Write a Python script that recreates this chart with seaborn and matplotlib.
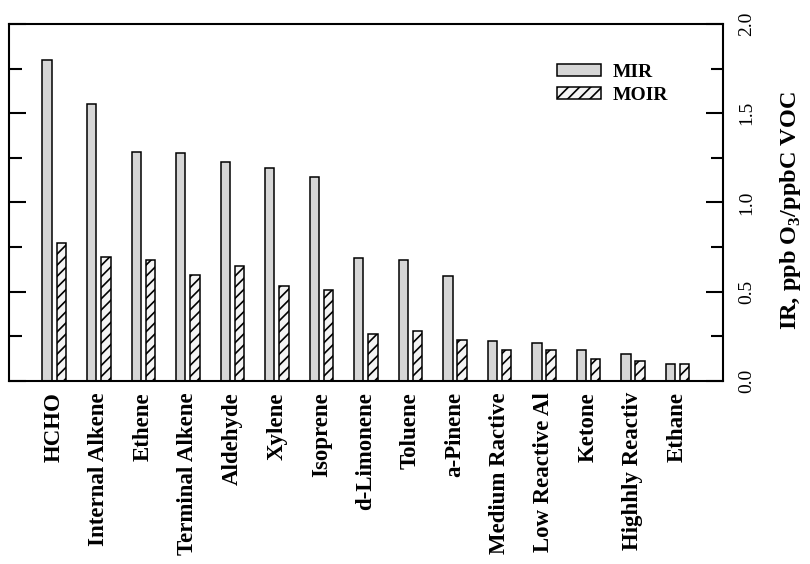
import matplotlib
matplotlib.use('Agg')
import matplotlib.pyplot as plt
import pandas as pd
import seaborn as sns
from matplotlib.ticker import MultipleLocator

categories = ['HCHO', 'Internal Alkene', 'Ethene', 'Terminal Alkene', 'Aldehyde',
              'Xylene', 'Isoprene', 'd-Limonene', 'Toluene', 'a-Pinene',
              'Medium Ractive', 'Low Reactive Al', 'Ketone', 'Highhly Reactiv', 'Ethane']
mir = [1.80, 1.55, 1.28, 1.275, 1.225, 1.195, 1.145, 0.69, 0.675, 0.59,
       0.222, 0.213, 0.176, 0.153, 0.093]
moir = [0.775, 0.696, 0.678, 0.594, 0.646, 0.534, 0.511, 0.265, 0.282, 0.231,
        0.176, 0.174, 0.123, 0.112, 0.093]
scales = ['MIR', 'MOIR']

sns.set_style('ticks')
plt.rcParams['font.family'] = ['Liberation Serif', 'DejaVu Serif']
plt.rcParams['mathtext.fontset'] = 'custom'
plt.rcParams['mathtext.rm'] = 'Liberation Serif:bold'
plt.rcParams['hatch.linewidth'] = 1.2
for key in ['text.color', 'axes.labelcolor', 'xtick.color', 'ytick.color',
            'axes.edgecolor', 'hatch.color']:
    plt.rcParams[key] = 'black'

df = pd.DataFrame({
    'species': categories * 2,
    'IR': mir + moir,
    'scale': [scales[0]] * len(mir) + [scales[1]] * len(moir),
})

fig = plt.figure(figsize=(8.1, 5.64), dpi=100)
ax = fig.add_axes([0.011, 0.3245, 0.882, 0.633])

sns.barplot(data=df, x='species', y='IR', hue='scale', order=categories,
            palette=['#d6d6d6', '#f4f4f4'], saturation=1, width=0.64, gap=0.34,
            edgecolor='black', linewidth=1.1, legend=False, ax=ax)
for bar in ax.containers[1]:
    bar.set_hatch('///')

ax.set_xlim(-1.02, 15.03)
ax.set_ylim(0, 2.0)
ax.set_xlabel('')

ax.yaxis.set_major_locator(MultipleLocator(0.5))
ax.yaxis.set_minor_locator(MultipleLocator(0.25))
ax.yaxis.set_label_position('right')
ax.tick_params(axis='y', which='both', direction='in', left=True, right=True,
               labelleft=False, labelright=True, width=1.5, labelsize=14,
               labelrotation=90, pad=11)
ax.tick_params(axis='y', which='major', length=12)
ax.tick_params(axis='y', which='minor', length=9)
ax.tick_params(axis='x', length=0, pad=8)
for lab in ax.get_xticklabels():
    lab.set_rotation(90)
    lab.set_fontweight('bold')
    lab.set_fontsize(16.5)
for lab in ax.get_yticklabels():
    lab.set_va('center')

ax.set_ylabel(r'IR, ppb O$_3$/ppbC VOC', fontsize=17.5, fontweight='bold')
ax.yaxis.set_label_coords(1.077, 0.476)

for sp in ax.spines.values():
    sp.set_linewidth(1.5)
    sp.set_visible(True)

handles = [ax.containers[0].patches[0], ax.containers[1].patches[0]]
ax.legend(handles, scales, loc='upper left', bbox_to_anchor=(0.6877, 0.886),
          bbox_transform=fig.transFigure, frameon=False, borderpad=0, borderaxespad=0,
          handlelength=2.25, handleheight=0.57, labelspacing=0.3, handletextpad=0.6,
          prop={'weight': 'bold', 'size': 14})

fig.savefig('out.png', dpi=100)
